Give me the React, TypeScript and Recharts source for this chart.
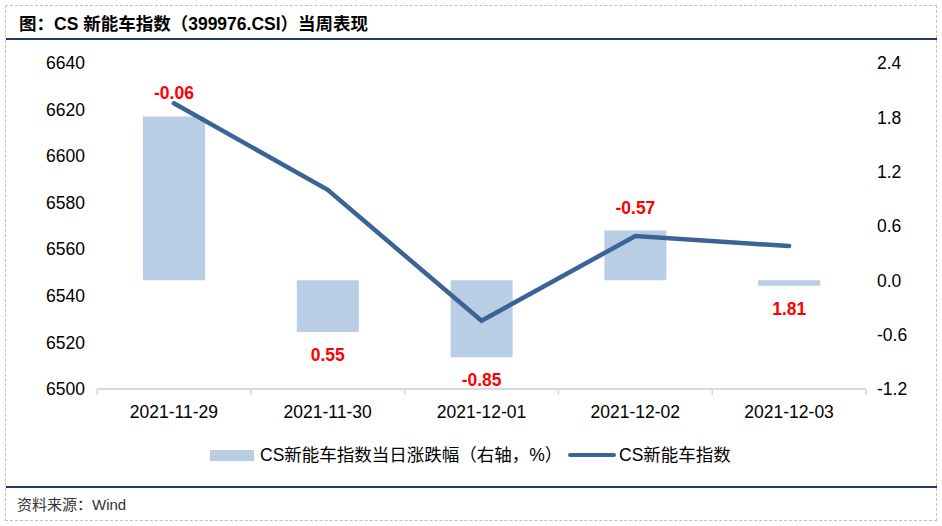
import React from "react";
import { ComposedChart, Bar, Line, XAxis, YAxis, LabelList } from "recharts";

const categories = ["2021-11-29", "2021-11-30", "2021-12-01", "2021-12-02", "2021-12-03"];
const indexValues = [6622.7, 6585.5, 6529.3, 6565.7, 6561.4];
const changeValues = [1.81, -0.57, -0.85, 0.55, -0.06];
const changeLabels = ["-0.06", "0.55", "-0.85", "-0.57", "1.81"];
const leftTicks = [6500, 6520, 6540, 6560, 6580, 6600, 6620, 6640];
const rightTicks = [-1.2, -0.6, 0, 0.6, 1.2, 1.8, 2.4];

const barName = "CS新能车指数当日涨跌幅（右轴，%）";
const lineName = "CS新能车指数";
const titleText = "图：CS 新能车指数（399976.CSI）当周表现";
const sourceText = "资料来源：Wind";

const data = categories.map((c, i) => ({
  date: c,
  index: indexValues[i],
  change: changeValues[i],
  label: changeLabels[i],
}));

const FONT = '"Liberation Sans", Arial, "Noto Sans CJK SC", sans-serif';
const BAR_COLOR = "#b9cde5";
const LINE_COLOR = "#3a6396";
const NAVY = "#1f3864";

const XTick = (props: any) => {
  const { x, y, payload, index, visibleTicksCount } = props;
  const half = payload && payload.offset ? payload.offset : 77;
  const count = visibleTicksCount || categories.length;
  return (
    <g>
      <line x1={x - half} x2={x - half} y1={y} y2={y + 6} stroke="#d9d9d9" strokeWidth={1.5} />
      {index === count - 1 && (
        <line x1={x + half} x2={x + half} y1={y} y2={y + 6} stroke="#d9d9d9" strokeWidth={1.5} />
      )}
      <text x={x} y={y + 23} textAnchor="middle" dominantBaseline="central" fontSize={17.5} fill="#000" fontFamily={FONT}>
        {payload.value}
      </text>
    </g>
  );
};

const BarLabel = (props: any) => {
  const { x, y, width, height, value, index } = props;
  const v = changeValues[index];
  const top = Math.min(y, y + height);
  const bottom = Math.max(y, y + height);
  const ly = v >= 0 ? top - 23 : bottom + 23;
  return (
    <text x={x + width / 2} y={ly} textAnchor="middle" dominantBaseline="central" fontSize={17.5} fontWeight="bold" fill="#ff0000" fontFamily={FONT}>
      {value}
    </text>
  );
};

export default function App() {
  return (
    <div style={{ position: "absolute", left: 0, top: 0, width: 942, height: 526, background: "#fff", fontFamily: FONT }}>
      <div style={{ position: "absolute", left: 5, top: 5, width: 932, height: 516, border: "1px dashed #c0c0c0", boxSizing: "border-box" }} />
      <div style={{ position: "absolute", left: 19, top: 12, fontSize: 17.5, fontWeight: "bold", color: "#000", whiteSpace: "nowrap", lineHeight: "24px" }}>
        {titleText}
      </div>
      <div style={{ position: "absolute", left: 6, top: 38, width: 931, height: 2, background: NAVY }} />
      <div style={{ position: "absolute", left: 6, top: 486, width: 931, height: 2, background: NAVY }} />
      <div style={{ position: "absolute", left: 17, top: 494, fontSize: 15, color: "#333", whiteSpace: "nowrap", lineHeight: "22px" }}>
        {sourceText}
      </div>
      <div style={{ position: "absolute", left: 0, top: 0 }}>
        <ComposedChart width={942} height={526} data={data} margin={{ top: 63, right: 16, bottom: 107, left: 37 }}>
          <XAxis
            dataKey="date"
            xAxisId="x"
            axisLine={{ stroke: "#d9d9d9", strokeWidth: 2 }}
            tickLine={false}
            tickSize={0}
            tickMargin={0}
            height={30}
            tick={<XTick />}
            interval={0}
          />
          <YAxis
            yAxisId="left"
            orientation="left"
            domain={[6500, 6640]}
            ticks={leftTicks}
            axisLine={false}
            tickLine={false}
            tickSize={0}
            tickMargin={12}
            width={60}
            tick={{ fontSize: 17.5, fill: "#000", fontFamily: FONT }}
            allowDataOverflow
          />
          <YAxis
            yAxisId="right"
            orientation="right"
            domain={[-1.2, 2.4]}
            ticks={rightTicks}
            axisLine={false}
            tickLine={false}
            tickSize={0}
            tickMargin={11}
            width={60}
            tickFormatter={(v: number) => v.toFixed(1)}
            tick={{ fontSize: 17.5, fill: "#000", fontFamily: FONT, textAnchor: "start" }}
            allowDataOverflow
          />
          <Bar dataKey="change" xAxisId="x" yAxisId="right" fill={BAR_COLOR} barSize={62} isAnimationActive={false} name={barName}>
            <LabelList dataKey="label" content={<BarLabel />} />
          </Bar>
          <Line
            dataKey="index"
            xAxisId="x"
            yAxisId="left"
            type="linear"
            stroke={LINE_COLOR}
            strokeWidth={4.5}
            strokeLinecap="round"
            dot={false}
            activeDot={false}
            isAnimationActive={false}
            name={lineName}
          />
        </ComposedChart>
      </div>
      <div style={{ position: "absolute", left: 0, top: 443, width: 942, height: 24, fontSize: 17.5, color: "#000", whiteSpace: "nowrap" }}>
        <div style={{ position: "absolute", left: 210, top: 7, width: 44, height: 11, background: BAR_COLOR }} />
        <div style={{ position: "absolute", left: 260, top: 0, lineHeight: "24px" }}>{barName}</div>
        <div style={{ position: "absolute", left: 568, top: 10, width: 48, height: 4, borderRadius: 2, background: LINE_COLOR }} />
        <div style={{ position: "absolute", left: 619, top: 0, lineHeight: "24px" }}>{lineName}</div>
      </div>
    </div>
  );
}
